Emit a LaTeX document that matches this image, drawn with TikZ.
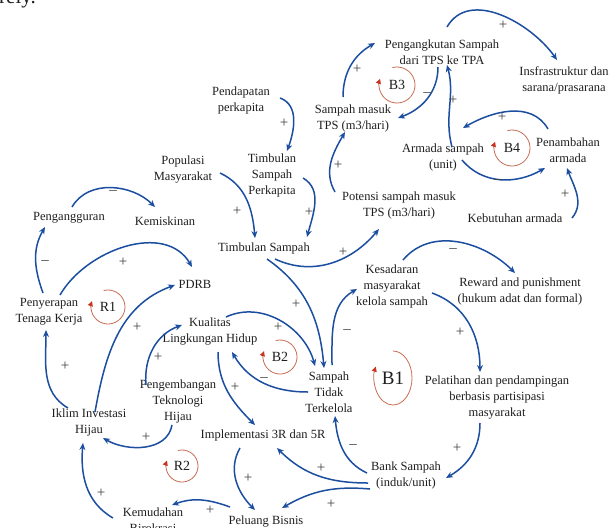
\documentclass[tikz,border=0pt]{standalone}
\usepackage{fontspec}
\setmainfont{Liberation Serif}
\usetikzlibrary{arrows.meta}
\definecolor{linkblue}{RGB}{28,78,160}
\definecolor{txt}{RGB}{30,30,30}
\definecolor{loopline}{RGB}{200,110,85}
\definecolor{loophead}{RGB}{200,50,30}
\tikzset{
  every node/.style={font=\fontsize{12.5}{16}\selectfont, text=txt, inner sep=0pt, align=center},
  lnk/.style={draw=linkblue, line width=1.5pt, -{Stealth[length=7pt,width=6pt]}},
  pol/.style={font=\fontsize{15}{17}\selectfont, text=txt!85},
  loopc/.style={draw=loopline, line width=0.8pt, -{Triangle[length=5pt,width=5pt,color=loophead]}},
  looplab/.style={font=\fontsize{14}{16}\selectfont},
}
\begin{document}
\begin{tikzpicture}[x=1pt,y=1pt]
\fill[white] (0,0) rectangle (609,-527);
\useasboundingbox (0,0) rectangle (609,-527);

\node[anchor=base west, font=\fontsize{21}{24}\selectfont] (rely) at (-1,-4) {rely.};

% variables
\node (pend)  at (241,-100) {Pendapatan\\perkapita};
\node (tsp)   at (272,-175) {Timbulan\\Sampah\\Perkapita};
\node (pop)   at (183,-170) {Populasi\\Masyarakat};
\node (peng)  at (69,-218)  {Pengangguran};
\node (kem)   at (165,-221) {Kemiskinan};
\node (ts)    at (264,-248) {Timbulan Sampah};
\node (pdrb)  at (195,-284) {PDRB};
\node (pen)   at (49,-312)  {Penyerapan\\Tenaga Kerja};
\node (kual)  at (210,-332) {Kualitas\\Lingkungan Hidup};
\node (ptek)  at (178,-401) {Pengembangan\\Teknologi\\Hijau};
\node (iklim) at (89,-422)  {Iklim Investasi\\Hijau};
\node (impl)  at (263,-435) {Implementasi 3R dan 5R};
\node (kemud) at (153,-520) {Kemudahan\\Birokrasi};
\node (pel)   at (266,-522) {Peluang Bisnis};
\node (stt)   at (329,-392) {Sampah\\Tidak\\Terkelola};
\node (kes)   at (392,-286) {Kesadaran\\masyarakat\\kelola sampah};
\node (rew)   at (520,-291) {Reward and punishment\\(hukum adat dan formal)};
\node (pelat) at (497,-398) {Pelatihan dan pendampingan\\berbasis partisipasi\\masyarakat};
\node (bank)  at (406,-475) {Bank Sampah\\(induk/unit)};
\node (smt)   at (353,-118) {Sampah masuk\\TPS (m3/hari)};
\node (angk)  at (442,-52)  {Pengangkutan Sampah\\dari TPS ke TPA};
\node (infra) at (564,-80)  {Insfrastruktur dan\\sarana/prasarana};
\node (arm)   at (443,-157) {Armada sampah\\(unit)};
\node (tamb)  at (568,-150) {Penambahan\\armada};
\node (kebut) at (515,-218) {Kebutuhan armada};
\node (pot)   at (399,-205) {Potensi sampah masuk\\TPS (m3/hari)};

% links
\draw[lnk] ([shift={(39,2)}]pend.center) to[out=-20,in=70] ([shift={(15,24)}]tsp.center);
\draw[lnk] ([shift={(37,-3)}]pop.center) to[out=-25,in=95] ([shift={(-9,10)}]ts.center);
\draw[lnk] ([shift={(31,-3)}]tsp.center) to[out=-30,in=75] ([shift={(43,11)}]ts.center);
\draw[lnk] ([shift={(11,-11)}]ts.center) to[out=-25,in=-130] ([shift={(-20,-24)}]pot.center);
\draw[lnk] ([shift={(3,-11)}]ts.center) to[out=-35,in=95] ([shift={(-5,24)}]stt.center);
\draw[lnk] ([shift={(16,15)}]kual.center) to[out=25,in=105] ([shift={(-14,26)}]stt.center);
\draw[lnk] ([shift={(-21,0)}]stt.center) to[out=180,in=-60] ([shift={(22,-20)}]kual.center);
\draw[lnk] ([shift={(3,27)}]stt.center) to[out=90,in=-150] ([shift={(-35,-3)}]kes.center);
\draw[lnk] ([shift={(11,26)}]kes.center) to[out=50,in=135] ([shift={(-5,18)}]rew.center);
\draw[lnk] ([shift={(40,-7)}]kes.center) to[out=-20,in=90] ([shift={(-17,26)}]pelat.center);
\draw[lnk] ([shift={(-17,-25)}]pelat.center) to[out=-90,in=30] ([shift={(40,-3)}]bank.center);
\draw[lnk] ([shift={(-39,2)}]bank.center) to[out=155,in=-85] ([shift={(6,-24)}]stt.center);
\draw[lnk] ([shift={(-38,-8)}]bank.center) to[out=180,in=-45] ([shift={(14,-13)}]impl.center);
\draw[lnk] ([shift={(-36,-14)}]bank.center) to[out=175,in=30] ([shift={(16,14)}]pel.center);
\draw[lnk] ([shift={(-23,-13)}]impl.center) to[out=-120,in=135] ([shift={(-11,12)}]pel.center);
\draw[lnk] ([shift={(-36,15)}]pel.center) to[out=160,in=20] ([shift={(19,15)}]kemud.center);
\draw[lnk] ([shift={(-40,2)}]kemud.center) to[out=150,in=-95] ([shift={(-6,-21)}]iklim.center);
\draw[lnk] ([shift={(-6,-24)}]ptek.center) to[out=-100,in=-30] ([shift={(14,-16)}]iklim.center);
\draw[lnk] ([shift={(-32,16)}]ptek.center) to[out=95,in=-160] ([shift={(-28,7)}]kual.center);
\draw[lnk] ([shift={(8,-20)}]kual.center) to[out=-90,in=135] ([shift={(-8,10)}]impl.center);
\draw[lnk] ([shift={(6,10)}]iklim.center) to[out=80,in=-160] ([shift={(-20,-1)}]pdrb.center);
\draw[lnk] ([shift={(-21,14)}]iklim.center) to[out=150,in=-90] ([shift={(-3,-18)}]pen.center);
\draw[lnk] ([shift={(11,17)}]pen.center) to[out=60,in=120] ([shift={(-3,17)}]pdrb.center);
\draw[lnk] ([shift={(-6,19)}]pen.center) to[out=110,in=-120] ([shift={(-24,-9)}]peng.center);
\draw[lnk] ([shift={(3,11)}]peng.center) to[out=60,in=135] ([shift={(-10,14)}]kem.center);
\draw[lnk] ([shift={(-64,13)}]pot.center) to[out=120,in=-120] ([shift={(-8,-14)}]smt.center);
\draw[lnk] ([shift={(-10,21)}]smt.center) to[out=90,in=-150] ([shift={(-67,9)}]angk.center);
\draw[lnk] ([shift={(-4,-15)}]angk.center) to[out=-90,in=20] ([shift={(45,0)}]smt.center);
\draw[lnk] ([shift={(9,10)}]arm.center) to[out=105,in=-75] ([shift={(5,-13)}]angk.center);
\draw[lnk] ([shift={(5,25)}]angk.center) to[out=60,in=125] ([shift={(-7,20)}]infra.center);
\draw[lnk] ([shift={(-20,21)}]tamb.center) to[out=120,in=30] ([shift={(20,29)}]arm.center);
\draw[lnk] ([shift={(19,-3)}]arm.center) to[out=-50,in=-150] ([shift={(-23,-18)}]tamb.center);
\draw[lnk] ([shift={(57,0)}]kebut.center) to[out=50,in=-70] ([shift={(-1,-18)}]tamb.center);

% polarities
\node[pol] (s1)  at (284,-123) {+};
\node[pol] (s2)  at (237,-211) {+};
\node[pol] (s3)  at (309,-212) {+};
\node[pol] (s4)  at (343,-252) {+};
\node[pol] (s5)  at (296,-304) {+};
\node[pol] (s6)  at (278,-327) {+};
\node[pol] (s7)  at (264,-380) {–};
\node[pol] (s8)  at (347,-332) {–};
\node[pol] (s9)  at (453,-251) {–};
\node[pol] (s10) at (460,-332) {+};
\node[pol] (s11) at (457,-448) {+};
\node[pol] (s12) at (353,-447) {–};
\node[pol] (s13) at (321,-468) {+};
\node[pol] (s14) at (331,-504) {+};
\node[pol] (s15) at (248,-478) {+};
\node[pol] (s16) at (210,-510) {+};
\node[pol] (s17) at (101,-493) {+};
\node[pol] (s18) at (146,-437) {+};
\node[pol] (s19) at (158,-357) {+};
\node[pol] (s20) at (235,-387) {+};
\node[pol] (s21) at (137,-327) {+};
\node[pol] (s22) at (65,-366)  {+};
\node[pol] (s23) at (123,-262) {+};
\node[pol] (s24) at (45,-263)  {–};
\node[pol] (s25) at (113,-193) {–};
\node[pol] (s26) at (338,-165) {+};
\node[pol] (s27) at (357,-69)  {+};
\node[pol] (s28) at (427,-95)  {–};
\node[pol] (s29) at (453,-100) {+};
\node[pol] (s30) at (503,-25)  {+};
\node[pol] (s31) at (502,-117) {+};
\node[pol] (s32) at (498,-182) {–};
\node[pol] (s33) at (565,-194) {+};

% loop markers
\node[looplab] (r1) at (108,-307) {R1};
\node[looplab] (r2) at (182,-466) {R2};
\node[looplab] (b2) at (280,-357) {B2};
\node[looplab] (b3) at (397,-85)  {B3};
\node[looplab] (b4) at (512,-148) {B4};
\node[font=\fontsize{19}{22}\selectfont] (b1) at (393,-378) {B1};
\foreach \n/\r in {r1/17, r2/16, b2/17, b3/18, b4/18}{
  \draw[loopc] ([shift={(105:\r)}]\n.center) arc[start angle=105, end angle=-200, radius=\r];
}
\draw[loopc] ([shift={(90:19 and 27)}]b1.center) arc[start angle=90, end angle=-205, x radius=19, y radius=27];
\end{tikzpicture}
\end{document}
